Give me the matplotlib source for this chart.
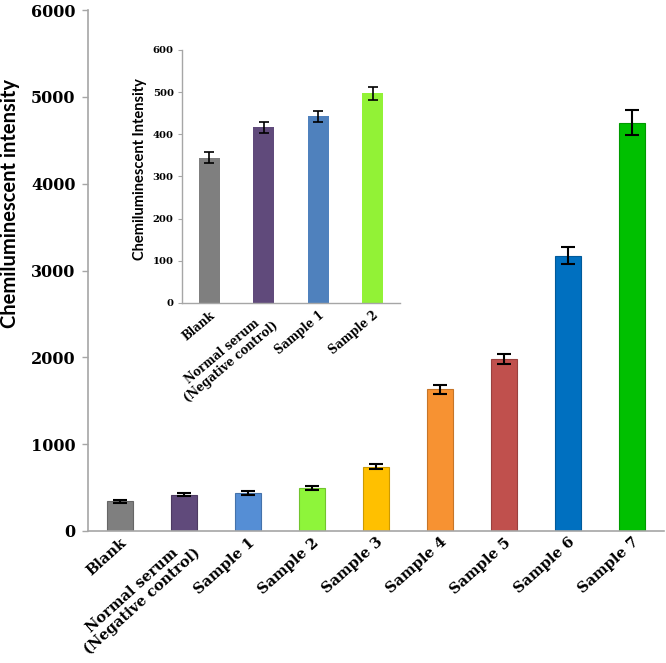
import numpy as np
import matplotlib
matplotlib.use('Agg')
import matplotlib.pyplot as plt
from matplotlib.colors import to_rgb

# main chart data
labels = ['Blank', 'Normal serum\n(Negative control)', 'Sample 1', 'Sample 2', 'Sample 3',
          'Sample 4', 'Sample 5', 'Sample 6', 'Sample 7']
values = [340, 418, 441, 498, 740, 1630, 1980, 3170, 4700]
errors = [20, 18, 25, 22, 28, 52, 55, 95, 145]
colors = ['#7f7f7f', '#604a7b', '#558ed5', '#8ef53a', '#ffc000',
          '#f79232', '#c0504d', '#0070c0', '#00c000']

# inset data
in_labels = ['Blank', 'Normal serum\n(Negative control)', 'Sample 1', 'Sample 2']
in_values = [345, 417, 443, 497]
in_errors = [12, 13, 13, 15]
in_colors = ['#7f7f7f', '#604a7b', '#4f81bd', '#92f236']

def darker(c, f=0.8):
    r, g, b = to_rgb(c)
    return (r * f, g * f, b * f)

serif = 'DejaVu Serif'
grey = '#a6a6a6'

fig = plt.figure(figsize=(6.66, 6.63), dpi=100)

ax = fig.add_axes([0.1321, 0.1991, 0.8649, 0.7858])
x = np.arange(len(values))
ax.bar(x, values, width=0.41, color=colors, edgecolor=[darker(c) for c in colors], linewidth=0.8)
ax.errorbar(x, values, yerr=errors, fmt='none', ecolor='black', elinewidth=1.5,
            capsize=5, capthick=1.5)
ax.set_xlim(-0.5, 8.5)
ax.set_ylim(0, 6000)
ax.set_yticks([0, 1000, 2000, 3000, 4000, 5000, 6000])
ax.set_xticks(x)
ax.set_xticklabels(labels, rotation=42, ha='right', rotation_mode='anchor',
                   fontfamily=serif, fontweight='bold', fontsize=10.5,
                   multialignment='center', linespacing=1.0)
for t in ax.get_yticklabels():
    t.set_fontfamily(serif)
    t.set_fontweight('bold')
    t.set_fontsize(11.5)
ax.tick_params(axis='x', length=0, pad=3)
ax.tick_params(axis='y', length=4, color=grey, width=1, pad=5)
for s in ['top', 'right']:
    ax.spines[s].set_visible(False)
for s in ['left', 'bottom']:
    ax.spines[s].set_color(grey)
    ax.spines[s].set_linewidth(1.2)
fig.text(10 / 666, 1 - 203 / 663, 'Chemiluminescent intensity', rotation=90,
         ha='center', va='center', fontfamily='Lato', fontweight='bold', fontsize=14.5)

# inset
ax2 = fig.add_axes([0.2733, 0.543, 0.3273, 0.3816])
xi = np.arange(len(in_values))
ax2.bar(xi, in_values, width=0.39, color=in_colors)
ax2.errorbar(xi, in_values, yerr=in_errors, fmt='none', ecolor='black', elinewidth=1.2,
             capsize=3.5, capthick=1.2)
ax2.set_xlim(-0.5, 3.5)
ax2.set_ylim(0, 600)
ax2.set_yticks(range(0, 601, 100))
ax2.set_xticks(xi)
ax2.set_xticklabels(in_labels, rotation=40, ha='right', rotation_mode='anchor',
                    fontfamily=serif, fontweight='bold', fontsize=8.3,
                    multialignment='center', linespacing=1.0)
for t in ax2.get_yticklabels():
    t.set_fontfamily(serif)
    t.set_fontweight('bold')
    t.set_fontsize(7.2)
ax2.tick_params(axis='x', length=0, pad=4)
ax2.tick_params(axis='y', length=3, color=grey, width=0.8, pad=3)
ax2.patch.set_alpha(0)
for s in ['top', 'right']:
    ax2.spines[s].set_visible(False)
for s in ['left', 'bottom']:
    ax2.spines[s].set_color(grey)
    ax2.spines[s].set_linewidth(1)
ax2.set_ylabel('Chemiluminescent Intensity', fontfamily='Lato', fontweight='bold',
               fontsize=10.5)
ax2.yaxis.set_label_coords(-0.16, 0.53)

fig.savefig('out.png', dpi=100)
